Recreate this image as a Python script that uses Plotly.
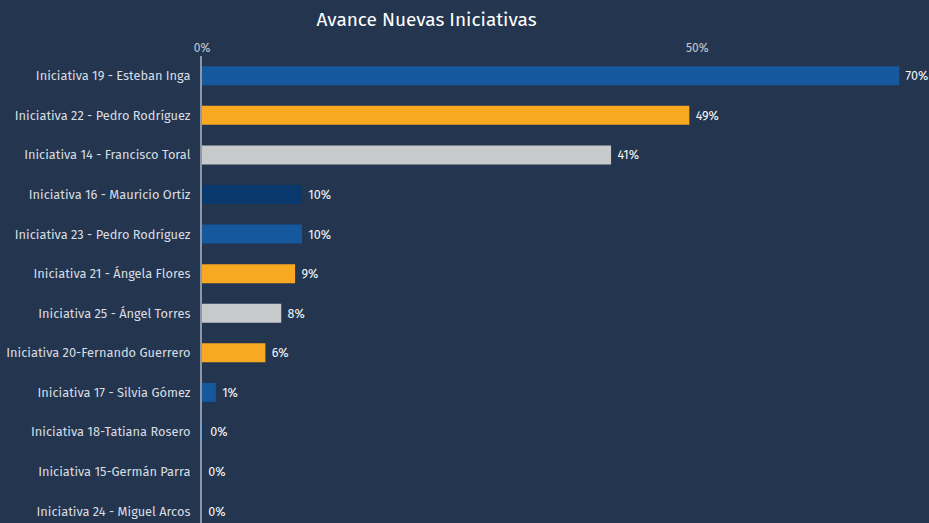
import plotly.graph_objects as go

categories = [
    "Iniciativa 19 - Esteban Inga",
    "Iniciativa 22 - Pedro Rodríguez",
    "Iniciativa 14 - Francisco Toral",
    "Iniciativa 16 - Mauricio Ortiz",
    "Iniciativa 23 - Pedro Rodríguez",
    "Iniciativa 21 - Ángela Flores",
    "Iniciativa 25 - Ángel Torres",
    "Iniciativa 20-Fernando Guerrero",
    "Iniciativa 17 - Silvia Gómez",
    "Iniciativa 18-Tatiana Rosero",
    "Iniciativa 15-Germán Parra",
    "Iniciativa 24 - Miguel Arcos",
]
values = [70.4, 49.2, 41.3, 10.1, 10.1, 9.4, 8.0, 6.4, 1.4, 0.2, 0.0, 0.0]
value_labels = ["70%", "49%", "41%", "10%", "10%", "9%", "8%", "6%", "1%", "0%", "0%", "0%"]
tick_values = [0, 50]
tick_labels = ["0%", "50%"]

BLUE = "#15589b"
ORANGE = "#f9a822"
GRAY = "#c8c9cb"
NAVY = "#08386c"
bar_colors = [BLUE, ORANGE, GRAY, NAVY, BLUE, ORANGE, GRAY, ORANGE, BLUE, NAVY, GRAY, BLUE]

BG = "#24364f"
FONT = "Fira Sans, Open Sans, sans-serif"

fig = go.Figure(
    go.Bar(
        x=values,
        y=categories,
        orientation="h",
        marker=dict(color=bar_colors, line=dict(width=0)),
        width=0.48,
        text=value_labels,
        texttemplate=" %{text}",
        textposition="outside",
        textfont=dict(color="#f4f6f8", size=12.5, family=FONT),
        cliponaxis=False,
        hoverinfo="skip",
    )
)

fig.update_layout(
    width=929,
    height=523,
    paper_bgcolor=BG,
    plot_bgcolor=BG,
    margin=dict(l=202, r=0, t=56, b=0),
    showlegend=False,
    title=dict(
        text="Avance Nuevas Iniciativas",
        x=426.5 / 929,
        xref="container",
        xanchor="center",
        y=1 - 19 / 523,
        yanchor="middle",
        font=dict(color="#ffffff", size=19, family=FONT),
    ),
    font=dict(family=FONT),
    xaxis=dict(
        side="top",
        range=[0, 73.4],
        tickvals=tick_values,
        ticktext=tick_labels,
        showgrid=False,
        zeroline=False,
        showline=False,
        ticks="",
        tickfont=dict(color="#c3c9d2", size=12, family=FONT),
        ticklabelstandoff=1,
    ),
    yaxis=dict(
        categoryorder="array",
        categoryarray=categories,
        range=[11.3, -0.5],
        showgrid=False,
        zeroline=False,
        showline=True,
        linecolor="#8e98a7",
        linewidth=2,
        ticks="",
        ticklabelstandoff=7,
        tickfont=dict(color="#d9dde3", size=12.8, family=FONT),
    ),
)

fig.write_html(
    "out.html",
    config={"displayModeBar": False},
    post_script="document.body.style.margin='0';document.body.style.overflow='hidden';",
)
